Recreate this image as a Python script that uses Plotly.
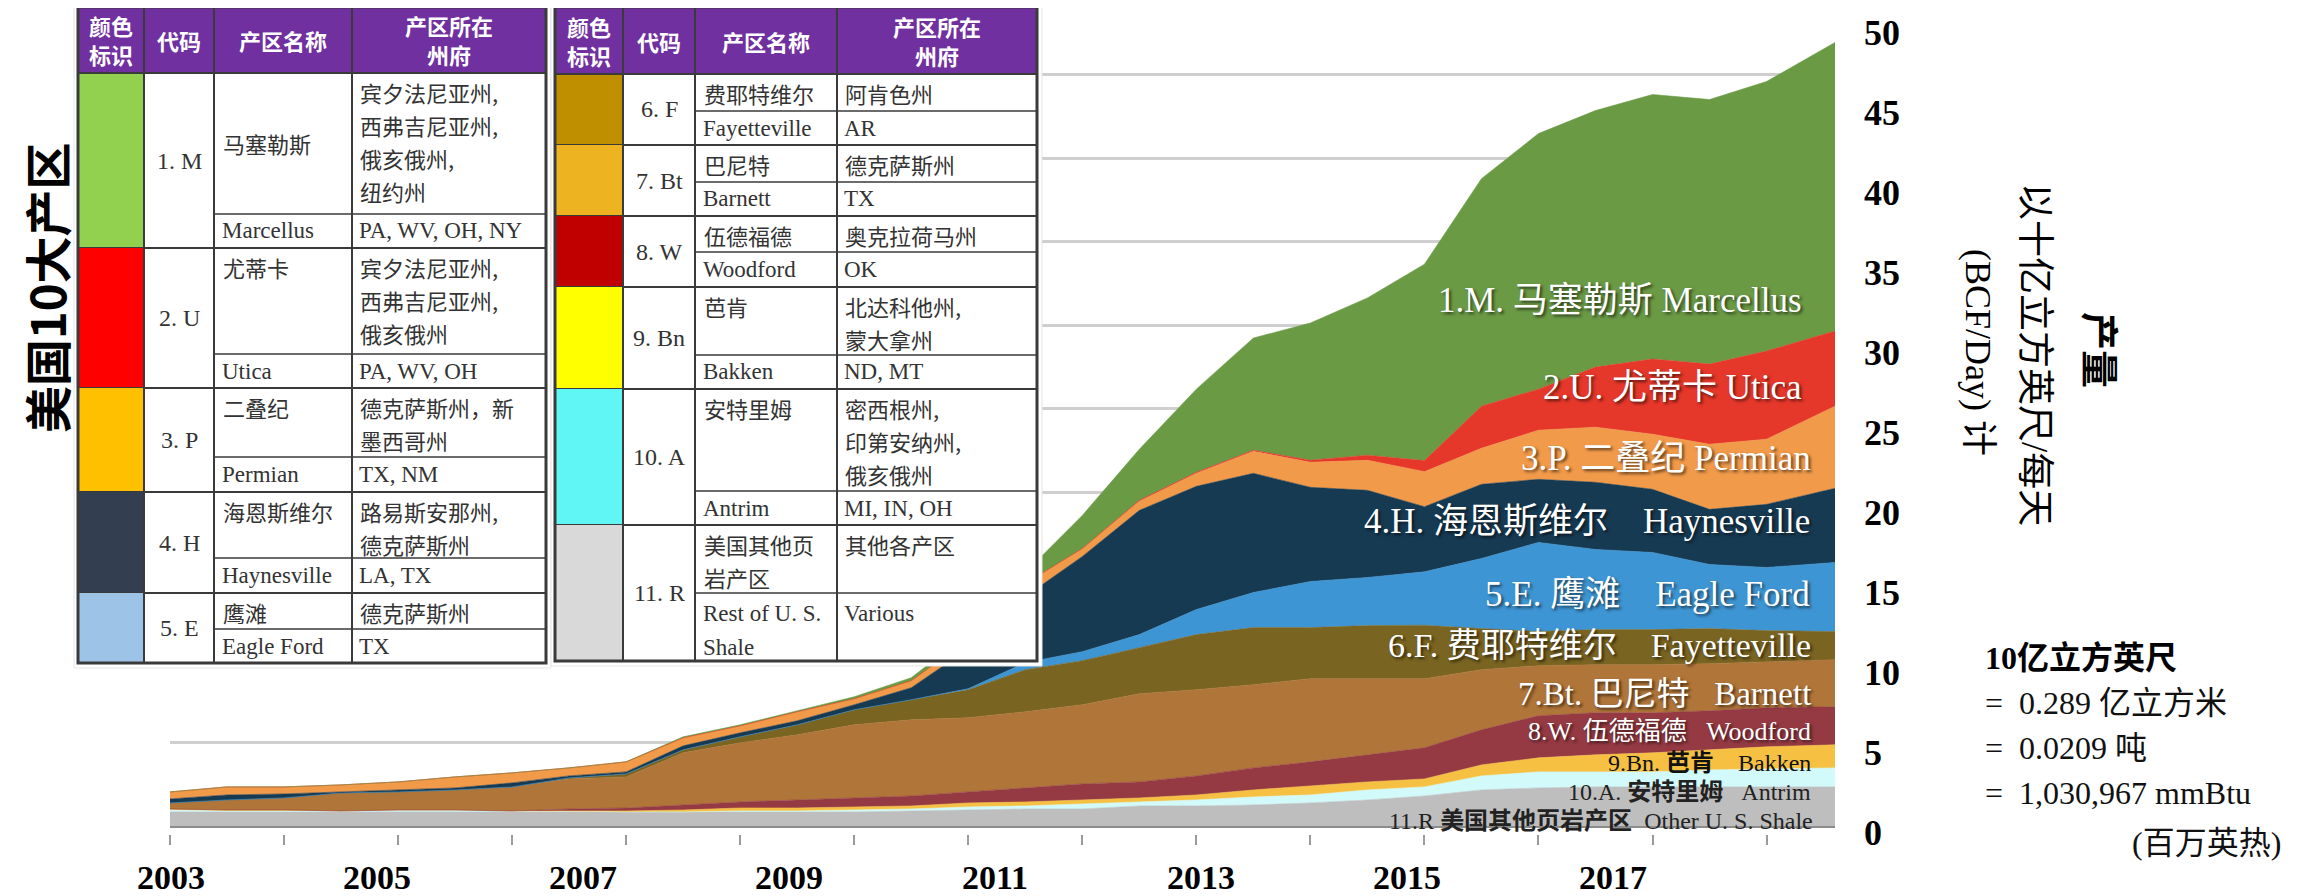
import plotly.graph_objects as go

# ── page / plot geometry (px, measured on the page) ──────────────────────
W, H = 2312, 896
BODY = 8                                  # default <body> margin of the written page
L, R, T, B = 170, 1835, 24, 834          # plot area edges on the page

SERIF = "Liberation Serif, Noto Sans CJK SC, serif"
CJK = "Noto Sans CJK SC, sans-serif"
PURPLE = "#7030A0"
GRID_LINE = "#3A3A3A"

# ── data: dry shale gas production (BCF/day), read half-yearly off the picture ──
YEARS = [2003.0, 2003.5, 2004.0, 2004.5, 2005.0, 2005.5, 2006.0, 2006.5, 2007.0, 2007.5,
         2008.0, 2008.5, 2009.0, 2009.5, 2010.0, 2010.5, 2011.0, 2011.5, 2012.0, 2012.5,
         2013.0, 2013.5, 2014.0, 2014.5, 2015.0, 2015.5, 2016.0, 2016.5, 2017.0, 2017.6]

OTHER = [0.84, 0.84, 0.84, 0.84, 0.84, 0.84, 0.84, 0.84, 0.84, 0.84, 0.84, 0.84, 0.84, 0.90, 0.96,
         1.02, 1.02, 1.20, 1.20, 1.26, 1.38, 1.56, 1.80, 2.16, 2.28, 2.34, 2.34, 2.34, 2.34, 2.34]
ANTRIM = [0.12, 0.06, 0.06, 0.06, 0.12, 0.12, 0.06, 0.06, 0.00, 0.00, 0.06, 0.06, 0.12, 0.12, 0.18,
          0.18, 0.30, 0.24, 0.36, 0.48, 0.48, 0.60, 0.54, 0.84, 0.96, 0.90, 0.90, 1.02, 1.08, 1.14]
BAKKEN = [0.06, 0.06, 0.06, 0.00, 0.00, 0.00, 0.00, 0.00, 0.06, 0.12, 0.18, 0.18, 0.18, 0.18, 0.24,
          0.24, 0.24, 0.24, 0.30, 0.42, 0.54, 0.48, 0.48, 0.66, 0.84, 1.02, 1.14, 1.20, 1.32, 1.38]
WOODFORD = [0.00, 0.00, 0.00, 0.00, 0.00, 0.00, 0.00, 0.12, 0.18, 0.30, 0.36, 0.48, 0.54, 0.60, 0.66,
            0.84, 0.96, 0.96, 1.14, 1.32, 1.44, 1.62, 1.86, 2.10, 2.52, 2.52, 2.40, 2.34, 2.34, 2.28]
BARNETT = [0.36, 0.60, 0.72, 1.08, 1.08, 1.20, 1.44, 1.80, 1.86, 3.12, 3.54, 3.90, 4.38, 4.56, 4.44,
           4.56, 4.74, 5.28, 5.16, 4.98, 4.98, 4.56, 4.14, 3.60, 3.00, 2.88, 2.88, 2.82, 2.76, 2.82]
FAYETTEVILLE = [0.00, 0.00, 0.00, 0.00, 0.00, 0.00, 0.00, 0.06, 0.18, 0.18, 0.36, 0.60, 0.90, 1.20, 1.68,
                2.52, 2.64, 2.76, 3.30, 3.42, 3.06, 3.18, 3.20, 2.46, 2.04, 2.10, 2.10, 2.10, 1.86, 1.68]
EAGLE_FORD = [0.00, 0.00, 0.00, 0.00, 0.00, 0.00, 0.00, 0.00, 0.00, 0.00, 0.00, 0.00, 0.00, 0.00, 0.06,
              0.42, 0.54, 0.78, 1.50, 2.10, 2.76, 2.88, 3.20, 4.20, 5.34, 4.80, 4.62, 3.84, 3.78, 4.14]
HAYNESVILLE = [0.24, 0.30, 0.24, 0.06, 0.12, 0.12, 0.24, 0.12, 0.12, 0.24, 0.24, 0.24, 0.30, 0.72, 2.40,
               3.96, 5.70, 7.44, 7.38, 7.14, 5.64, 5.22, 3.90, 4.44, 3.78, 4.02, 3.78, 3.30, 3.78, 4.44]
PERMIAN = [0.42, 0.48, 0.42, 0.42, 0.48, 0.66, 0.60, 0.48, 0.60, 0.48, 0.42, 0.54, 0.36, 0.42, 0.54,
           0.78, 0.48, 0.54, 0.78, 1.32, 1.50, 1.80, 2.10, 2.16, 2.94, 3.30, 3.30, 3.90, 3.90, 4.92]
UTICA = [0.00, 0.00, 0.00, 0.00, 0.00, 0.00, 0.00, 0.00, 0.00, 0.00, 0.00, 0.00, 0.00, 0.00, 0.00,
         0.00, 0.00, 0.06, 0.06, 0.06, 0.12, 0.30, 0.66, 2.52, 2.46, 3.60, 4.50, 4.80, 5.28, 4.50]
MARCELLUS = [0.00, 0.00, 0.00, 0.00, 0.00, 0.00, 0.00, 0.00, 0.00, 0.06, 0.06, 0.06, 0.12, 0.18, 0.36,
             0.66, 1.98, 3.06, 4.98, 6.72, 8.22, 9.42, 11.76, 13.62, 15.30, 15.36, 15.84, 15.84, 16.14, 17.28]

# printed year labels (the source image places them on their own spacing)
LABEL_YEARS = [2003, 2005, 2007, 2009, 2011, 2013, 2015, 2017]

# stacked bottom -> top
SERIES = [
    ("Other U.S. Shale", OTHER, "#BEBEBE"),
    ("Antrim", ANTRIM, "#D2FAFA"),
    ("Bakken", BAKKEN, "#F6C143"),
    ("Woodford", WOODFORD, "#953A43"),
    ("Barnett", BARNETT, "#B07539"),
    ("Fayetteville", FAYETTEVILLE, "#7A6421"),
    ("Eagle Ford", EAGLE_FORD, "#3E95D3"),
    ("Haynesville", HAYNESVILLE, "#173A53"),
    ("Permian", PERMIAN, "#F19A4A"),
    ("Utica", UTICA, "#E5372A"),
    ("Marcellus", MARCELLUS, "#6B9A45"),
]

NB = "\u00a0"
SERIES_LABELS = [
    "1.M. 马塞勒斯 Marcellus",
    "2.U. 尤蒂卡 Utica",
    "3.P. 二叠纪 Permian",
    f"4.H. 海恩斯维尔{NB*4}Haynesville",
    f"5.E. 鹰滩{NB*4}Eagle Ford",
    f"6.F. 费耶特维尔{NB*4}Fayetteville",
    f"7.Bt. 巴尼特{NB*3}Barnett",
    f"8.W. 伍德福德{NB*3}Woodford",
    f"9.Bn.{NB}<b>芭肯</b>{NB*4}Bakken",
    f"10.A.{NB}<b>安特里姆</b>{NB*3}Antrim",
    f"11.R <b>美国其他页岩产区</b>{NB*2}Other U. S. Shale",
]
# (right edge x, centre y, font size, colour) on the page
LABEL_STYLE = [
    (1803, 300, 35, "white"), (1803, 387, 35, "white"), (1812, 458, 35, "white"),
    (1811, 521, 35, "white"), (1811, 594, 35, "white"), (1812, 645, 34, "white"),
    (1812, 694, 33, "white"), (1812, 731, 26, "white"), (1812, 763, 24, "#111111"),
    (1812, 792, 24, "#222222"), (1814, 821, 24, "#222222"),
]

# ── table contents ───────────────────────────────────────────────────────
HEADERS = ["颜色<br>标识", "代码", "产区名称", "产区所在<br>州府"]

T1_CODES = ["1. M", "2. U", "3. P", "4. H", "5. E"]
T1_COLORS = ["#92D050", "#FF0000", "#FFC000", "#333F50", "#9DC3E6"]
T1_NAME_CN = [["马塞勒斯"], ["尤蒂卡"], ["二叠纪"], ["海恩斯维尔"], ["鹰滩"]]
T1_NAME_EN = [["Marcellus"], ["Utica"], ["Permian"], ["Haynesville"], ["Eagle Ford"]]
T1_STATE_CN = [["宾夕法尼亚州,", "西弗吉尼亚州,", "俄亥俄州,", "纽约州"],
               ["宾夕法尼亚州,", "西弗吉尼亚州,", "俄亥俄州"],
               ["德克萨斯州，新", "墨西哥州"],
               ["路易斯安那州,", "德克萨斯州"],
               ["德克萨斯州"]]
T1_STATE_EN = ["PA, WV, OH, NY", "PA, WV, OH", "TX, NM", "LA, TX", "TX"]

T2_CODES = ["6. F", "7. Bt", "8. W", "9. Bn", "10. A", "11. R"]
T2_COLORS = ["#BF8F00", "#EDB321", "#C00000", "#FFFF00", "#60F6F6", "#D9D9D9"]
T2_NAME_CN = [["费耶特维尔"], ["巴尼特"], ["伍德福德"], ["芭肯"], ["安特里姆"], ["美国其他页", "岩产区"]]
T2_NAME_EN = [["Fayetteville"], ["Barnett"], ["Woodford"], ["Bakken"], ["Antrim"], ["Rest of U. S.", "Shale"]]
T2_STATE_CN = [["阿肯色州"], ["德克萨斯州"], ["奥克拉荷马州"], ["北达科他州,", "蒙大拿州"],
               ["密西根州,", "印第安纳州,", "俄亥俄州"], ["其他各产区"]]
T2_STATE_EN = ["AR", "TX", "OK", "ND, MT", "MI, IN, OH", "Various"]

# table geometry on the page: column edges, header band, (row top, split, row bottom)
T1_COLS = [78, 144, 214, 352, 546]
T1_HEAD = (7, 73)
T1_ROWS = [(73, 214, 248), (248, 354, 388), (388, 457, 492), (492, 558, 593), (593, 629, 663)]
T2_COLS = [555, 623, 695, 837, 1037]
T2_HEAD = (7, 74)
T2_ROWS = [(74, 111, 145), (145, 182, 216), (216, 252, 287), (287, 355, 389), (389, 491, 525), (525, 593, 661)]


def fx(x):
    return (x - L) / (R - L)


def fy(y):
    return (B - y) / (B - T)


shapes, notes = [], []


def text(x, y, s, size, color="#333333", family=SERIF, xanchor="left", angle=0, shadow=None, pad=1):
    font = dict(family=family, size=size, color=color)
    if shadow:
        font["shadow"] = shadow
    notes.append(dict(x=fx(x), y=fy(y), xref="paper", yref="paper", text=s, showarrow=False,
                      xanchor=xanchor, yanchor="middle", textangle=angle, font=font, borderpad=pad))


def rect(x0, y0, x1, y1, fill, line=None, width=0):
    shapes.append(dict(type="rect", xref="paper", yref="paper", layer="above",
                       x0=fx(x0), x1=fx(x1), y0=fy(y1), y1=fy(y0), fillcolor=fill,
                       line=dict(color=line or fill, width=width)))


def seg(x0, y0, x1, y1, width=2, color=GRID_LINE):
    shapes.append(dict(type="line", xref="paper", yref="paper", layer="above",
                       x0=fx(x0), x1=fx(x1), y0=fy(y0), y1=fy(y1),
                       line=dict(color=color, width=width)))


def draw_table(cols, head, rows, codes, colors, names_cn, names_en, states_cn, states_en):
    x0, x4 = cols[0], cols[-1]
    bottom = rows[-1][2]
    rect(x0 - 4, head[0] - 4, x4 + 5, bottom + 5, "white", "#E4E4E4", 1)
    rect(x0, head[0], x4, head[1], PURPLE)
    for i, hdr in enumerate(HEADERS):
        text((cols[i] + cols[i + 1]) / 2, (head[0] + head[1]) / 2, f"<b>{hdr}</b>", 22,
             "white", CJK, "center")
    for i, (rt, rs, rb) in enumerate(rows):
        rect(cols[0], rt, cols[1], rb, colors[i])
        seg(x0, rb, x4, rb)
        seg(cols[2], rs, x4, rs, 1.5)
        text((cols[1] + cols[2]) / 2, (rt + rb) / 2, codes[i], 24, xanchor="center")
        # chinese name: the tall Marcellus cell keeps it centred
        if rs - rt > 120:
            text(cols[2] + 7, (rt + rs) / 2, names_cn[i][0], 22, family=CJK)
        else:
            for k, ln in enumerate(names_cn[i]):
                text(cols[2] + 7, rt + 19 + 33 * k, ln, 22, family=CJK)
        for k, ln in enumerate(states_cn[i]):
            text(cols[3] + 6, rt + 19 + 33 * k, ln, 22, family=CJK)
        if len(names_en[i]) == 1:
            text(cols[2] + 6, (rs + rb) / 2, names_en[i][0], 23)
        else:
            for k, ln in enumerate(names_en[i]):
                text(cols[2] + 6, rs + 20 + 34 * k, ln, 23)
        ey = (rs + rb) / 2 if len(names_en[i]) == 1 else rs + 20
        text(cols[3] + 5, ey, states_en[i], 23)
    seg(x0, head[1], x4, head[1])
    for c in cols:
        seg(c, head[0], c, bottom, 2)
    rect(x0, head[0], x4, bottom, "rgba(0,0,0,0)", GRID_LINE, 3)


fig = go.Figure()
for name, vals, color in SERIES:
    fig.add_trace(go.Scatter(
        x=YEARS, y=vals, name=name, stackgroup="shale", mode="lines",
        line=dict(width=0.6, color=color), fillcolor=color,
    ))
# empty traces that pin the two label axes (right 0-50 scale, bottom year labels)
fig.add_trace(go.Scatter(x=[], y=[], xaxis="x", yaxis="y2", showlegend=False, hoverinfo="skip"))
fig.add_trace(go.Scatter(x=[], y=[], xaxis="x2", yaxis="y", showlegend=False, hoverinfo="skip"))

draw_table(T1_COLS, T1_HEAD, T1_ROWS, T1_CODES, T1_COLORS, T1_NAME_CN, T1_NAME_EN, T1_STATE_CN, T1_STATE_EN)
draw_table(T2_COLS, T2_HEAD, T2_ROWS, T2_CODES, T2_COLORS, T2_NAME_CN, T2_NAME_EN, T2_STATE_CN, T2_STATE_EN)

shadow = "2px 2px 3px rgba(0,0,0,0.6)"
for s, (x, y, size, color) in zip(SERIES_LABELS, LABEL_STYLE):
    text(x, y, s, size, color, SERIF, "right", shadow=shadow if color == "white" else None, pad=0)

# titles
text(45, 288, "<b>美国10大产区</b>", 47, "black", CJK, "center", angle=-90)
text(2103, 350, "<b>产量</b>", 38, "black", CJK, "center", angle=90)
text(2035, 354, "以十亿立方英尺/每天", 37, "black", SERIF, "center", angle=90)
text(1978, 352, "(BCF/Day) 计", 36, "black", SERIF, "center", angle=90)

# unit conversion box
text(1983, 658, "<b>10亿立方英尺</b>", 32, "black")
text(1983, 703, f"={NB*2}0.289 亿立方米", 32, "#111111")
text(1983, 748, f"={NB*2}0.0209 吨", 32, "#111111")
text(1983, 793, f"={NB*2}1,030,967 mmBtu", 32, "#111111")
text(2283, 843, "(百万英热)", 32, "#111111", xanchor="right")

year_px = 103.0                       # spacing of the printed year labels
x2_start = 2002.99
x2_end = x2_start + (R - L) / year_px

fig.update_layout(
    # the page adds an 8px body margin, so the figure is drawn 8px smaller / earlier
    width=W - BODY, height=H - BODY,
    margin=dict(l=L - BODY, r=W - R, t=T - BODY, b=H - B, pad=0, autoexpand=False),
    paper_bgcolor="white", plot_bgcolor="white",
    showlegend=False,
    xaxis=dict(
        range=[2003, 2017.6], tick0=2003, dtick=1,
        ticks="outside", ticklen=10, tickwidth=2, tickcolor="#9A9A9A",
        showticklabels=False, showgrid=False, zeroline=False, showline=False, automargin=False,
    ),
    xaxis2=dict(
        overlaying="x", side="bottom", anchor="y",
        range=[x2_start, x2_end], tickmode="array",
        tickvals=LABEL_YEARS, ticktext=[str(v) for v in LABEL_YEARS],
        ticks="", ticklabelstandoff=20,
        tickfont=dict(family=SERIF, size=34, color="black", weight="bold"),
        showgrid=False, zeroline=False, showline=False, automargin=False,
    ),
    yaxis=dict(
        range=[-0.479, 48.024], tick0=0, dtick=5,
        showgrid=True, gridcolor="#CFCFCF", gridwidth=3,
        zeroline=True, zerolinecolor="#8C8C8C", zerolinewidth=3,
        showticklabels=False, ticks="", automargin=False,
    ),
    yaxis2=dict(
        overlaying="y", side="right", anchor="x",
        range=[-0.125, 50.5], tick0=0, dtick=5,
        showgrid=False, zeroline=False, ticks="", ticklabelstandoff=28, automargin=False,
        tickfont=dict(family=SERIF, size=36, color="black", weight="bold"),
    ),
    shapes=shapes,
    annotations=notes,
)

fig.write_html("out.html")
